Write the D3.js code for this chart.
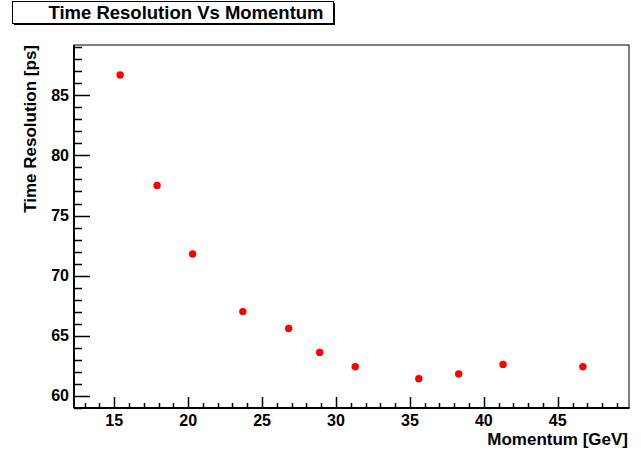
<!DOCTYPE html>
<html>
<head>
<meta charset="utf-8">
<script src="https://cdn.jsdelivr.net/npm/d3@7"></script>
<style>
  html, body { margin: 0; padding: 0; background: #fff; }
  svg { display: block; }
</style>
</head>
<body>
<div id="chart"></div>
<script>
const momentum = [15.4, 17.9, 20.3, 23.7, 26.8, 28.9, 31.3, 35.6, 38.3, 41.3, 46.7];
const resolution = [86.7, 77.5, 71.8, 67.0, 65.6, 63.6, 62.4, 61.4, 61.8, 62.6, 62.4];
const xMajorTicks = [15, 20, 25, 30, 35, 40, 45];
const yMajorTicks = [60, 65, 70, 75, 80, 85];

function drawChart() {
  const width = 641;
  const height = 450;
  const fontFamily = "'Liberation Sans', Arial, Helvetica, sans-serif";
  const frame = { left: 74, right: 629, top: 45, bottom: 408 };
  const tickFont = 16;
  const titleFont = 17;

  const svg = d3.select("#chart")
    .append("svg")
    .attr("width", width)
    .attr("height", height)
    .style("font-family", fontFamily);

  const x = d3.scaleLinear().domain([12.28, 49.82]).range([frame.left, frame.right]);
  const y = d3.scaleLinear().domain([58.97, 89.2]).range([frame.bottom, frame.top]);

  // Frame (top / right thin)
  svg.append("rect")
    .attr("x", frame.left)
    .attr("y", frame.top)
    .attr("width", frame.right - frame.left)
    .attr("height", frame.bottom - frame.top)
    .attr("fill", "none")
    .attr("stroke", "#000")
    .attr("stroke-width", 1);

  // Minor ticks
  const xMinor = d3.range(13, 50, 1).filter(v => v % 5 !== 0);
  const yMinor = d3.range(59, 90, 1).filter(v => v % 5 !== 0);

  const axisG = svg.append("g").attr("stroke", "#000").attr("stroke-width", 1.5);

  axisG.selectAll("line.xminor")
    .data(xMinor)
    .join("line")
    .attr("x1", d => Math.round(x(d)) + 0.5)
    .attr("x2", d => Math.round(x(d)) + 0.5)
    .attr("y1", frame.bottom)
    .attr("y2", frame.bottom - 5);

  axisG.selectAll("line.xmajor")
    .data(xMajorTicks)
    .join("line")
    .attr("x1", d => Math.round(x(d)) + 0.5)
    .attr("x2", d => Math.round(x(d)) + 0.5)
    .attr("y1", frame.bottom)
    .attr("y2", frame.bottom - 11);

  axisG.selectAll("line.yminor")
    .data(yMinor)
    .join("line")
    .attr("x1", frame.left)
    .attr("x2", frame.left + 8)
    .attr("y1", d => Math.round(y(d)) + 0.5)
    .attr("y2", d => Math.round(y(d)) + 0.5);

  axisG.selectAll("line.ymajor")
    .data(yMajorTicks)
    .join("line")
    .attr("x1", frame.left)
    .attr("x2", frame.left + 16)
    .attr("y1", d => Math.round(y(d)) + 0.5)
    .attr("y2", d => Math.round(y(d)) + 0.5);

  // Axis lines (thicker)
  axisG.append("line")
    .attr("x1", frame.left).attr("x2", frame.right + 0.5)
    .attr("y1", frame.bottom).attr("y2", frame.bottom)
    .attr("stroke-width", 2);
  axisG.append("line")
    .attr("x1", frame.left).attr("x2", frame.left)
    .attr("y1", frame.top).attr("y2", frame.bottom)
    .attr("stroke-width", 2);

  // Tick labels
  svg.append("g")
    .selectAll("text")
    .data(xMajorTicks)
    .join("text")
    .attr("x", d => x(d))
    .attr("y", 425.5)
    .attr("text-anchor", "middle")
    .attr("font-size", tickFont)
    .attr("font-weight", "bold")
    .text(d => d);

  svg.append("g")
    .selectAll("text")
    .data(yMajorTicks)
    .join("text")
    .attr("x", 69)
    .attr("y", d => y(d))
    .attr("dy", "0.36em")
    .attr("text-anchor", "end")
    .attr("font-size", tickFont)
    .attr("font-weight", "bold")
    .text(d => d);

  // Axis titles
  svg.append("text")
    .attr("x", 628)
    .attr("y", 444.5)
    .attr("text-anchor", "end")
    .attr("font-size", titleFont)
    .attr("font-weight", "bold")
    .text("Momentum [GeV]");

  svg.append("text")
    .attr("transform", "translate(36,45) rotate(-90)")
    .attr("text-anchor", "end")
    .attr("font-size", titleFont)
    .attr("font-weight", "bold")
    .text("Time Resolution [ps]");

  // Points
  svg.append("g")
    .selectAll("circle")
    .data(momentum.map((m, i) => ({ m, r: resolution[i] })))
    .join("circle")
    .attr("cx", d => x(d.m))
    .attr("cy", d => y(d.r))
    .attr("r", 3.7)
    .attr("fill", "#ff0000");

  // Title box with shadow
  svg.append("rect")
    .attr("x", 14).attr("y", 3)
    .attr("width", 321).attr("height", 22)
    .attr("fill", "#000");
  svg.append("rect")
    .attr("x", 12.5).attr("y", 1.5)
    .attr("width", 321).attr("height", 22)
    .attr("fill", "#fff")
    .attr("stroke", "#000")
    .attr("stroke-width", 1);
  svg.append("text")
    .attr("x", 186)
    .attr("y", 19)
    .attr("text-anchor", "middle")
    .attr("font-size", 18.5)
    .attr("font-weight", "bold")
    .text("Time Resolution Vs Momentum");
}

drawChart();
</script>
</body>
</html>
